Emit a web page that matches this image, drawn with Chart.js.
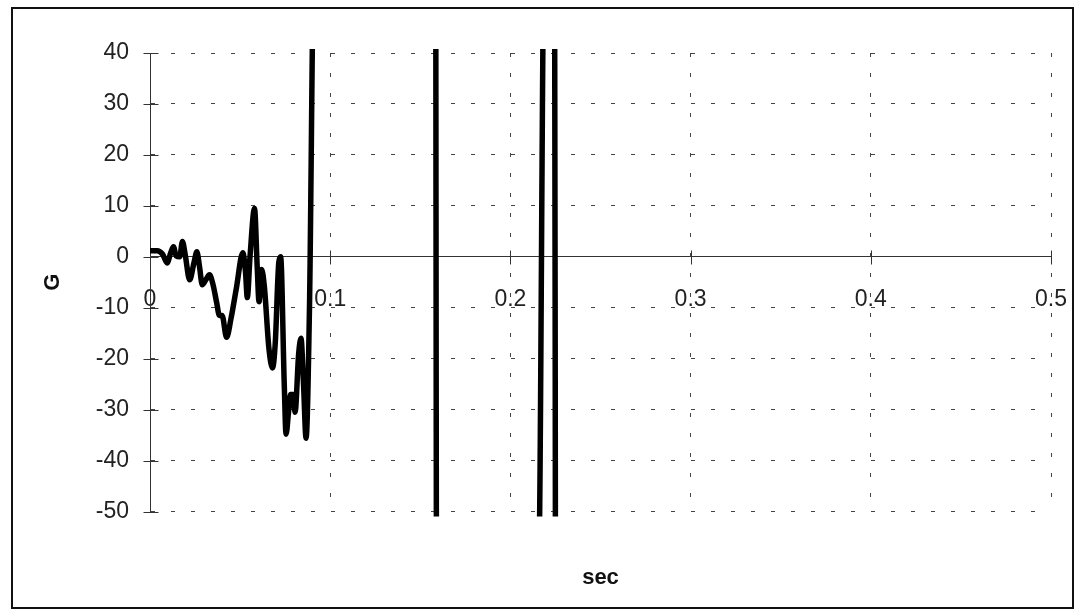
<!DOCTYPE html>
<html>
<head>
<meta charset="utf-8">
<script src="https://cdn.jsdelivr.net/npm/chart.js@4.4.1/dist/chart.umd.min.js"></script>
<style>
html, body { margin: 0; padding: 0; background: #fff; }
#wrap { position: relative; width: 1084px; height: 614px; }
#chart { position: absolute; left: 0; top: 0; }
#frame { position: absolute; left: 11px; top: 7px; width: 1059px; height: 598px; border: 2px solid #111; pointer-events: none; }
</style>
</head>
<body>
<div id="wrap">
  <canvas id="chart" width="1084" height="614"></canvas>
  <div id="frame"></div>
</div>
<script>
// valores (tiempo en s, aceleracion en G)
const tiempo = [0, 0.004, 0.007, 0.0095, 0.0115, 0.013, 0.0145, 0.0165, 0.018, 0.0195,
  0.022, 0.0245, 0.026, 0.0275, 0.029, 0.031, 0.033, 0.035, 0.037, 0.0385,
  0.040, 0.0425, 0.045, 0.048, 0.0515, 0.053, 0.054, 0.0555, 0.058, 0.0595,
  0.0605, 0.062, 0.0635, 0.066, 0.068, 0.0695, 0.0715, 0.0725, 0.0745, 0.0755,
  0.077, 0.078, 0.0795, 0.0805, 0.0825, 0.0838, 0.0852, 0.0866, 0.0885, 0.0911,
  0.1585, 0.1590, 0.2157, 0.2188, 0.2245, 0.2250]
const aceleracion = [1.2, 1.2, 0.5, -1.2, 0.8, 2.0, 0.2, 0, 3.0, 0.5,
  -4.5, -1, 1.0, -2, -5.5, -4.5, -3.5, -5.5, -9, -11.5,
  -11.5, -15.8, -12, -6, 0.8, -3, -8, 0, 9.5, -2,
  -8.8, -2.5, -6, -18, -21.8, -17, -1, 0, -25, -34.8,
  -30, -27, -27, -30.5, -19, -16, -25, -35.6, -10, 60,
  60, -60, -60, 60, 60, -60]

const xTicks = [0, 0.1, 0.2, 0.3, 0.4, 0.5]
const yTicks = [40, 30, 20, 10, 0, -10, -20, -30, -40, -50]

const fuente = "'Liberation Sans', Arial, sans-serif"

const marcasCruzadas = {
  id: 'marcasCruzadas',
  beforeDatasetsDraw(chart) {
    const {ctx, scales: {x, y}} = chart
    const x0 = Math.round(x.getPixelForValue(0)) + 0.5
    const y0 = Math.round(y.getPixelForValue(0)) + 0.5
    ctx.save()
    ctx.strokeStyle = '#333'
    ctx.lineWidth = 1
    ctx.beginPath()
    yTicks.forEach(v => {
      const py = Math.round(y.getPixelForValue(v)) + 0.5
      ctx.moveTo(x0 - 7, py)
      ctx.lineTo(x0 + 8, py)
    })
    xTicks.forEach(v => {
      const px = Math.round(x.getPixelForValue(v)) + 0.5
      ctx.moveTo(px, y0 - 7)
      ctx.lineTo(px, y0 + 7)
    })
    ctx.stroke()
    ctx.restore()
  }
}

function crearGrafica() {
  const ctx = document.getElementById("chart").getContext('2d')
  const puntos = tiempo.map((t, i) => ({x: t, y: aceleracion[i]}))
  new Chart(ctx, {
    type: 'scatter',
    data: {
      datasets: [{
        data: puntos,
        showLine: true,
        borderColor: '#000',
        borderWidth: 5.5,
        pointRadius: 0,
        cubicInterpolationMode: 'monotone',
        clip: {left: 3, top: 4, right: 3, bottom: 5}
      }]
    },
    options: {
      responsive: false,
      animation: false,
      layout: {padding: {left: 0, right: 33, top: 53, bottom: 23}},
      plugins: {
        legend: {display: false},
        tooltip: {enabled: false},
        title: {
          display: true,
          text: 'sec',
          position: 'bottom',
          fullSize: false,
          color: '#111',
          font: {family: fuente, size: 22, weight: 'bold'},
          padding: {top: 53, bottom: 0}
        }
      },
      scales: {
        x: {
          type: 'linear',
          position: {y: 0},
          min: 0,
          max: 0.5,
          afterBuildTicks: s => { s.ticks = xTicks.map(v => ({value: v})) },
          afterFit: s => { s.paddingRight = 0; s.paddingLeft = 0 },
          grid: {color: '#444', lineWidth: 1, drawTicks: false},
          border: {display: true, color: '#333', width: 1, dash: [4, 16]},
          ticks: {color: '#222', padding: 29, font: {family: fuente, size: 23}, maxRotation: 0}
        },
        y: {
          type: 'linear',
          position: 'left',
          min: -50,
          max: 40,
          afterBuildTicks: s => { s.ticks = yTicks.map(v => ({value: v})) },
          afterFit: s => { s.width = 150 },
          grid: {color: '#444', lineWidth: 1, drawTicks: false},
          border: {display: true, color: '#333', width: 1, dash: [4, 16]},
          ticks: {color: '#222', padding: 21, font: {family: fuente, size: 23}},
          title: {
            display: true,
            text: 'G',
            color: '#111',
            font: {family: fuente, size: 22, weight: 'bold'},
            padding: {top: 40, bottom: 0}
          }
        }
      }
    },
    plugins: [marcasCruzadas]
  })
}

crearGrafica()
</script>
</body>
</html>
